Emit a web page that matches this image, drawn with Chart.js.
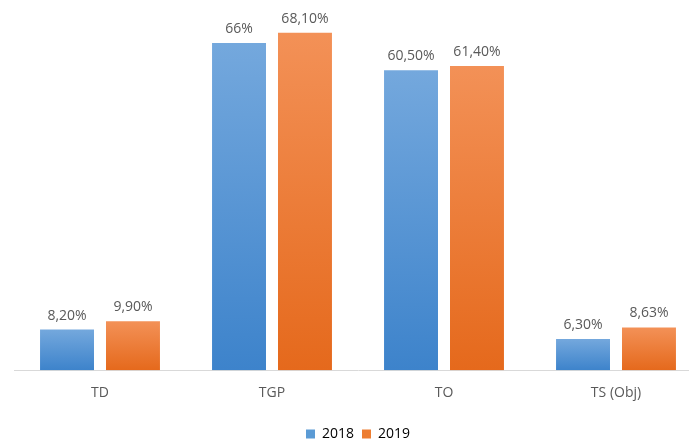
<!DOCTYPE html>
<html>
<head>
<meta charset="utf-8">
<script src="https://cdn.jsdelivr.net/npm/chart.js@4/dist/chart.umd.min.js"></script>
<style>
  html, body { margin: 0; padding: 0; background: #fff; overflow: hidden; }
  #wrap { width: 710px; height: 444px; }
</style>
</head>
<body>
<div id="wrap"><canvas id="chart"></canvas></div>
<script>
// values
const categories = ['TD', 'TGP', 'TO', 'TS (Obj)'];
const seriesNames = ['2018', '2019'];
const values2018 = [8.2, 66, 60.5, 6.3];
const values2019 = [9.9, 68.1, 61.4, 8.63];
const labels2018 = ['8,20%', '66%', '60,50%', '6,30%'];
const labels2019 = ['9,90%', '68,10%', '61,40%', '8,63%'];

const blue = { top: '#74a8dd', bottom: '#3d83cb', solid: '#5b9bd5' };
const orange = { top: '#f39157', bottom: '#e5691c', solid: '#ed7d31' };

function barGradient(colors) {
    return (ctx) => {
        const chart = ctx.chart;
        const area = chart.chartArea;
        if (!area || ctx.type !== 'data') return colors.solid;
        const yTop = chart.scales.y.getPixelForValue(ctx.raw);
        const g = chart.ctx.createLinearGradient(0, yTop, 0, area.bottom);
        g.addColorStop(0, colors.top);
        g.addColorStop(1, colors.bottom);
        return g;
    };
}

const valueLabels = {
    id: 'valueLabels',
    afterDatasetsDraw(chart) {
        const ctx = chart.ctx;
        const texts = [labels2018, labels2019];
        ctx.save();
        ctx.font = '14px "Open Sans", sans-serif';
        ctx.fillStyle = '#595959';
        ctx.textAlign = 'center';
        ctx.textBaseline = 'bottom';
        chart.data.datasets.forEach((ds, i) => {
            chart.getDatasetMeta(i).data.forEach((bar, j) => {
                ctx.fillText(texts[i][j], bar.x, bar.y - 7);
            });
        });
        ctx.restore();
    }
};

new Chart(document.getElementById('chart'), {
    type: 'bar',
    data: {
        labels: categories,
        datasets: [
            { label: seriesNames[0], data: values2018, backgroundColor: barGradient(blue) },
            { label: seriesNames[1], data: values2019, backgroundColor: barGradient(orange) }
        ]
    },
    options: {
        responsive: true,
        maintainAspectRatio: false,
        animation: false,
        categoryPercentage: 0.767,
        barPercentage: 0.818,
        layout: { padding: { left: 14, right: 8, top: 0, bottom: -7 } },
        plugins: {
            legend: {
                position: 'bottom',
                labels: {
                    boxWidth: 9, boxHeight: 9, padding: 8,
                    color: '#595959',
                    font: { family: '"Open Sans", sans-serif', size: 14 },
                    generateLabels: (chart) => chart.data.datasets.map((ds, i) => ({
                        text: ds.label,
                        fillStyle: i === 0 ? blue.solid : orange.solid,
                        strokeStyle: 'transparent',
                        lineWidth: 0,
                        datasetIndex: i
                    }))
                }
            },
            tooltip: { enabled: false }
        },
        scales: {
            x: {
                grid: { display: false },
                border: { display: true, color: '#d9d9d9', width: 1 },
                ticks: { color: '#595959', padding: 6, font: { family: '"Open Sans", sans-serif', size: 14 } },
                afterFit: (scale) => { scale.height += 12; }
            },
            y: { display: false, min: 0, max: 74.7 }
        }
    },
    plugins: [valueLabels]
});
</script>
</body>
</html>
